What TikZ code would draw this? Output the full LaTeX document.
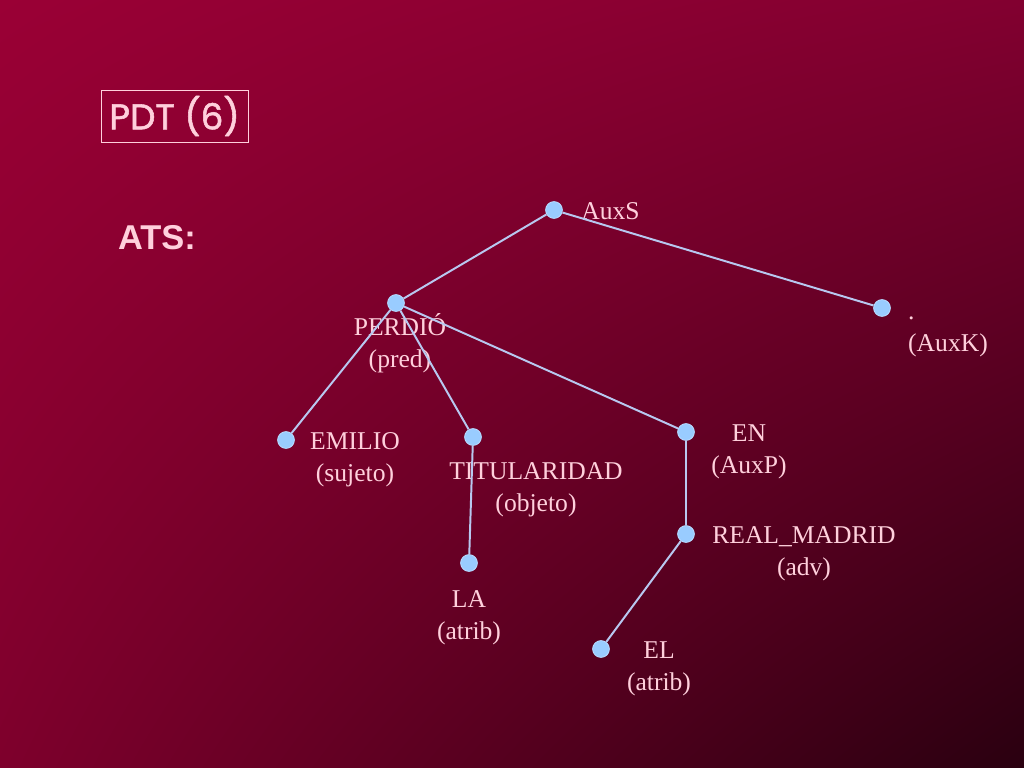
\documentclass[tikz,border=0pt]{standalone}
\usepackage{fontspec}
\setmainfont{Liberation Serif}
\newfontfamily\titlefont[FakeBold=1.5]{Poppins}
\newfontfamily\atsfont{Liberation Sans}
\usepackage{tikz}
\usetikzlibrary{shadings}

\definecolor{bgtl}{HTML}{9A0035}
\definecolor{bgtr}{HTML}{820030}
\definecolor{bgbl}{HTML}{7E002C}
\definecolor{bgbr}{HTML}{2A0010}
\definecolor{labelpink}{HTML}{FFD0DC}
\definecolor{edgeblue}{HTML}{B8C8F0}
\definecolor{dotblue}{HTML}{99CCFF}

\begin{document}
\begin{tikzpicture}[x=0.025cm, y=-0.025cm]

	\tikzstyle{tree_node}=[circle, fill=dotblue, draw=dotblue!70!white, line width=0.6pt, minimum size=0.42cm, inner sep=0pt]
	\tikzstyle{word_node}=[text=labelpink, align=center, inner sep=0pt, font=\fontsize{18.2}{22.8}\selectfont]
	\tikzstyle{tree_edge}=[draw=edgeblue, line width=1.4pt]

	\shade[upper left=bgtl, upper right=bgtr, lower left=bgbl, lower right=bgbr] (0, 0) rectangle (1024, 768);
	\useasboundingbox (0, 0) rectangle (1024, 768);

	\node[draw=labelpink, line width=0.6pt, text=labelpink, minimum width=3.675cm, minimum height=1.3cm, font=\titlefont\fontsize{25.5}{30}\selectfont] at (174.5, 116) (title) {PDT (6)};
	\node[text=labelpink, font=\atsfont\bfseries\fontsize{24.5}{29}\selectfont] at (157, 238) (ats) {ATS:};

	\node[tree_node] at (554, 210) (auxs) {};
	\node[tree_node] at (396, 303) (perdio) {};
	\node[tree_node] at (882, 308) (auxk) {};
	\node[tree_node] at (286, 440) (emilio) {};
	\node[tree_node] at (473, 437) (titularidad) {};
	\node[tree_node] at (686, 432) (en) {};
	\node[tree_node] at (686, 534) (real_madrid) {};
	\node[tree_node] at (469, 563) (la) {};
	\node[tree_node] at (601, 649) (el) {};

	\node[word_node, anchor=west] at (581, 211) (auxs_label) {AuxS};
	\node[word_node] at (400, 343) (perdio_label) {PERDIÓ\\(pred)};
	\node[word_node, align=left] at (948, 337) (auxk_label) {.\\(AuxK)};
	\node[word_node] at (355, 460) (emilio_label) {EMILIO\\(sujeto)};
	\node[word_node] at (536, 490) (titularidad_label) {TITULARIDAD\\(objeto)};
	\node[word_node] at (749, 452) (en_label) {EN\\(AuxP)};
	\node[word_node] at (804, 554) (real_madrid_label) {REAL\_MADRID\\(adv)};
	\node[word_node] at (469, 618) (la_label) {LA\\(atrib)};
	\node[word_node] at (659, 669) (el_label) {EL\\(atrib)};

	\draw[tree_edge] (auxs) -- (perdio);
	\draw[tree_edge] (auxs) -- (auxk);
	\draw[tree_edge] (perdio) -- (emilio);
	\draw[tree_edge] (perdio) -- (titularidad);
	\draw[tree_edge] (perdio) -- (en);
	\draw[tree_edge] (titularidad) -- (la);
	\draw[tree_edge] (en) -- (real_madrid);
	\draw[tree_edge] (real_madrid) -- (el);
\end{tikzpicture}
\end{document}
